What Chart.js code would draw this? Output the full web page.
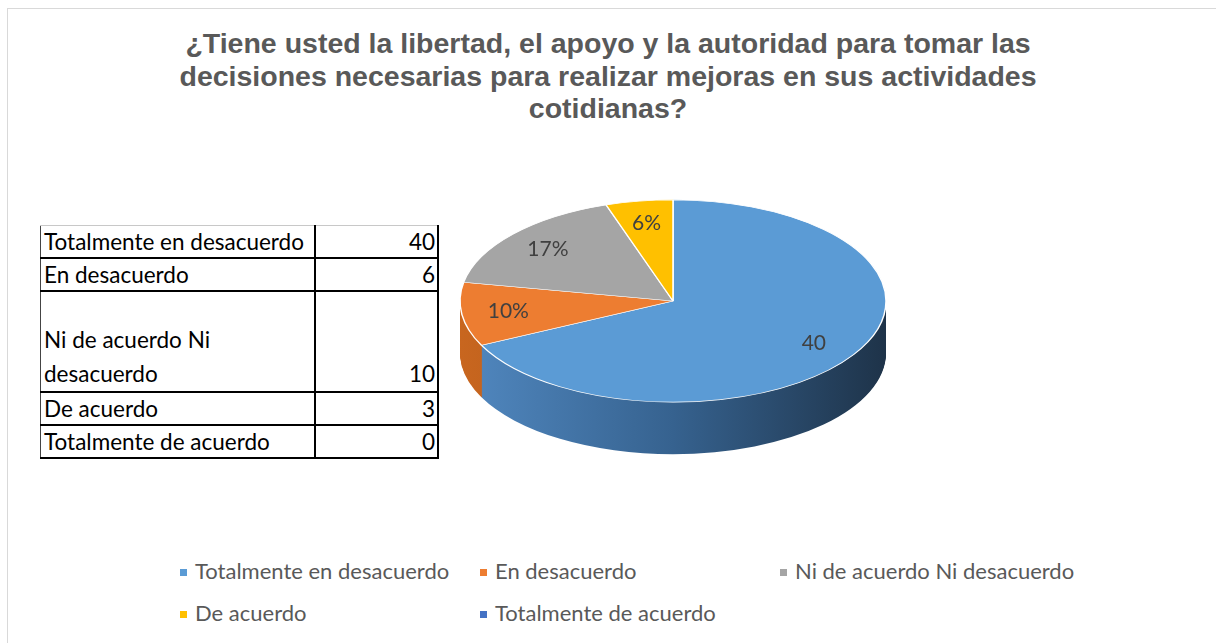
<!DOCTYPE html>
<html>
<head>
<meta charset="utf-8">
<script src="https://cdn.jsdelivr.net/npm/chart.js@4.4.1/dist/chart.umd.min.js"></script>
<style>
  html, body { margin: 0; padding: 0; background: #fff; }
  #page { position: relative; width: 1216px; height: 643px; overflow: hidden; }
  #frame { position: absolute; left: 7px; top: 8px; width: 1220px; height: 700px;
           border-left: 1px solid #d9d9d9; border-top: 1px solid #d9d9d9; }
  #title { position: absolute; left: 0; width: 1216px; top: 27px; text-align: center;
           font-family: "Liberation Sans", Arial, sans-serif; font-weight: bold;
           font-size: 28.5px; line-height: 32.5px; color: #595959; }
  #tbl { position: absolute; left: 40px; top: 225px; border-collapse: collapse;
         font-family: Lato, "Open Sans", sans-serif; font-size: 22.5px; color: #000; }
  #tbl td { padding: 0 2px 0 3px; vertical-align: bottom; line-height: 31px; height: 31px;
            border: 2px solid #000; }
  #tbl tr:first-child td { border-top: 1px solid #c8c8c8; }
  #tbl td:first-child { border-left: 1px solid #444; width: 268px; }
  #tbl td:last-child { text-align: right; width: 116px; }
  #tbl tr.tall td { height: 99px; line-height: 34px; }
  #pieBox { position: absolute; left: 440px; top: 160px; width: 466px; height: 340px; }
  #legend { position: absolute; left: 180px; top: 556px; width: 960px;
            font-family: Lato, "Open Sans", sans-serif; font-size: 22px; color: #595959; }
  .item { position: absolute; white-space: nowrap; line-height: 30px; }
  .item i { display: inline-block; width: 7px; height: 7px; margin-right: 8px; vertical-align: middle;
            position: relative; top: -1px; }
</style>
</head>
<body>
<div id="page">
  <div id="frame"></div>
  <div id="title">
    ¿Tiene usted la libertad, el apoyo y la autoridad para tomar las<br>
    decisiones necesarias para realizar mejoras en sus actividades<br>
    cotidianas?
  </div>
  <table id="tbl"></table>
  <div id="pieBox"><canvas id="pie" width="466" height="340"></canvas></div>
  <div id="legend"></div>
</div>
<script>
const categories = ["Totalmente en desacuerdo", "En desacuerdo", "Ni de acuerdo Ni desacuerdo", "De acuerdo", "Totalmente de acuerdo"];
const counts = [40, 6, 10, 3, 0];
const sliceLabels = ["40", "10%", "17%", "6%", ""];
const colors = ["#5b9bd5", "#ed7d31", "#a5a5a5", "#ffc000", "#4472c4"];
const sideColors = [["#5188c0", "#36628f", "#1e3349"], ["#c8661f", "#a85418", "#7a3c10"],
                    ["#8a8a8a", "#6e6e6e", "#505050"], ["#d9a300", "#b88a00", "#8a6700"],
                    ["#3a62a8", "#2c4c84", "#1f3760"]];

const TILT = 0.475;  // vertical squash of the pie
const DEPTH = 52;    // thickness of the side wall

// table on the left
const tbl = document.getElementById("tbl");
categories.forEach((c, i) => {
    const tr = document.createElement("tr");
    if (i === 2) tr.className = "tall";
    tr.innerHTML = "<td>" + c + "</td><td>" + counts[i] + "</td>";
    tbl.appendChild(tr);
});

// legend, laid out like the original (3 columns)
const legend = document.getElementById("legend");
categories.forEach((c, i) => {
    const d = document.createElement("div");
    d.className = "item";
    d.style.left = (i % 3) * 300 + "px";
    d.style.top = Math.floor(i / 3) * 42 + "px";
    d.innerHTML = '<i style="background:' + colors[i] + '"></i>' + c;
    legend.appendChild(d);
});

const pie3d = {
    id: "pie3d",
    beforeDatasetsDraw(chart) {
        const ctx = chart.ctx;
        const arcs = chart.getDatasetMeta(0).data;
        const cx = arcs[0].x, cy = arcs[0].y, r = arcs[0].outerRadius;
        for (let d = DEPTH; d > 0; d--) {
            arcs.forEach((arc, i) => {
                if (arc.endAngle - arc.startAngle <= 0) return;
                const g = ctx.createLinearGradient(cx - r, 0, cx + r, 0);
                g.addColorStop(0, sideColors[i][0]);
                g.addColorStop(0.5, sideColors[i][1]);
                g.addColorStop(1, sideColors[i][2]);
                ctx.save();
                ctx.translate(0, cy + d);
                ctx.scale(1, TILT);
                ctx.translate(0, -cy);
                ctx.beginPath();
                ctx.moveTo(cx, cy);
                ctx.arc(cx, cy, r, arc.startAngle, arc.endAngle);
                ctx.closePath();
                ctx.fillStyle = g;
                ctx.fill();
                ctx.restore();
            });
        }
        ctx.save();
        ctx.translate(0, cy);
        ctx.scale(1, TILT);
        ctx.translate(0, -cy);
    },
    afterDatasetsDraw(chart) {
        const ctx = chart.ctx;
        ctx.restore();
        const arcs = chart.getDatasetMeta(0).data;
        ctx.save();
        ctx.font = "21px Lato, 'Open Sans', sans-serif";
        ctx.fillStyle = "#404040";
        ctx.textAlign = "center";
        ctx.textBaseline = "middle";
        arcs.forEach((arc, i) => {
            if (!sliceLabels[i]) return;
            const mid = (arc.startAngle + arc.endAngle) / 2;
            const f = 0.78;
            const x = arc.x + Math.cos(mid) * arc.outerRadius * f;
            const y = arc.y + Math.sin(mid) * arc.outerRadius * f * TILT;
            ctx.fillText(sliceLabels[i], x, y);
        });
        ctx.restore();
    }
};

new Chart(document.getElementById("pie"), {
    type: "pie",
    data: {
        labels: categories,
        datasets: [{
            data: counts,
            backgroundColor: colors,
            borderColor: "#ffffff",
            borderWidth: 1.5,
            radius: 213
        }]
    },
    options: {
        responsive: false,
        animation: false,
        layout: { padding: { bottom: 58 } },
        plugins: { legend: { display: false }, tooltip: { enabled: false } }
    },
    plugins: [pie3d]
});
</script>
</body>
</html>
